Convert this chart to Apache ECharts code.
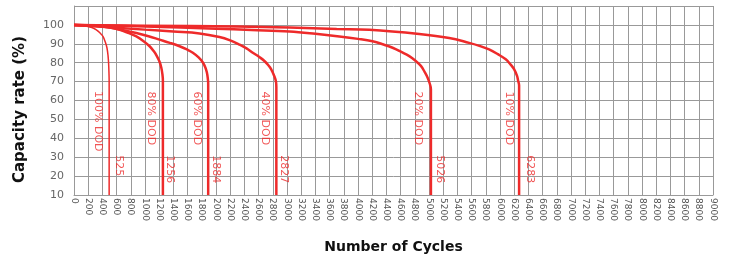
<!DOCTYPE html>
<html>
<head>
<meta charset="utf-8">
<script src="https://cdn.jsdelivr.net/npm/echarts@6/dist/echarts.min.js"></script>
<style>
  html, body { margin: 0; padding: 0; background: #fff; }
  #chart { width: 731px; height: 259px; }
</style>
</head>
<body>
<div id="chart"></div>
<script>
// 循环寿命曲线
const curve100 = [[0, 100], [150, 99.5], [250, 98.6], [315, 97.4], [370, 95.6], [408, 93.9], [440, 91], [464, 87.9], [480, 83.5], [488, 79.2], [493, 74], [495, 70], [495, 10]];
const curve80 = [[0, 100], [300, 99.6], [500, 98.7], [643, 97.4], [760, 95.8], [878, 93.9], [980, 91.4], [1065, 88.7], [1125, 86], [1167, 83.5], [1205, 80.5], [1229, 77.5], [1245, 74], [1252, 70.5], [1252, 10]];
const curve60 = [[0, 100], [400, 99.2], [643, 97.6], [878, 95.7], [1050, 94], [1205, 92.2], [1350, 90.5], [1487, 88.7], [1590, 87], [1674, 85.3], [1755, 82.8], [1815, 80.1], [1850, 77.5], [1871, 74.9], [1885, 71.5], [1890, 69], [1890, 10]];
const curve40 = [[0, 100], [500, 98.8], [1000, 97.5], [1400, 96.5], [1768, 95.5], [2049, 93.6], [2200, 91.8], [2330, 89.6], [2430, 87.6], [2518, 85.3], [2610, 83], [2682, 80.9], [2740, 78.5], [2776, 76.6], [2820, 73], [2845, 70], [2850, 67], [2850, 10]];
const curve20 = [[0, 100], [1000, 99.2], [2000, 98], [2500, 97.3], [3034, 96.5], [3400, 95.3], [3737, 93.9], [4000, 92.6], [4205, 91.3], [4360, 89.6], [4487, 87.9], [4610, 85.7], [4722, 83.5], [4810, 81], [4886, 78.3], [4940, 75], [4979, 72.2], [5010, 69], [5027, 66], [5027, 10]];
const curve10 = [[0, 100], [1000, 99.6], [2300, 99.1], [3034, 98.6], [3700, 97.8], [4159, 97.4], [4862, 95.2], [5284, 93.1], [5565, 90.5], [5720, 88.8], [5846, 87], [5970, 84.5], [6081, 81.8], [6150, 79], [6198, 76.6], [6240, 73], [6255, 70.5], [6269, 68], [6269, 10]];

// 标注文字
const dodNames = ['100% DOD', '80% DOD', '60% DOD', '40% DOD', '20% DOD', '10% DOD'];
const dodLabelX = [335, 1088, 1731, 2692, 4838, 6128];
const dodLabelY = [65, 64.7, 64.7, 64.7, 64.7, 64.7];
const cycleNames = ['525', '1256', '1884', '2827', '5026', '6283'];
const cycleLabelX = [633, 1355, 1993, 2949, 5157, 6419];
const cycleLabelY = [31, 31, 31, 31, 31, 31];

const RED = '#ee2a2a';
const curves = [curve100, curve80, curve60, curve40, curve20, curve10];

const chart = echarts.init(document.getElementById('chart'));

const lineSeries = curves.map((d, i) => ({
  name: dodNames[i],
  type: 'line',
  data: d,
  smooth: 0.4,
  showSymbol: false,
  lineStyle: { color: RED, width: i === 0 ? 1.5 : 2.5 },
  z: 3
}));

const textSeries = (names, xs, ys) => ({
  type: 'scatter',
  symbolSize: 1,
  itemStyle: { color: 'transparent' },
  data: names.map((n, i) => ({ value: [xs[i], ys[i]], name: n })),
  label: {
    show: true,
    position: 'inside',
    formatter: p => p.name,
    rotate: -90,
    align: 'left',
    verticalAlign: 'middle',
    color: RED,
    fontSize: 11,
    fontFamily: 'DejaVu Sans'
  },
  z: 4
});

chart.setOption({
  animation: false,
  grid: { left: 74, right: 18, top: 6, bottom: 62 },
  xAxis: {
    type: 'value',
    min: 0, max: 9000, interval: 200,
    name: 'Number of Cycles',
    nameLocation: 'middle',
    nameGap: 45,
    nameTextStyle: { color: '#111', fontSize: 14, fontWeight: 'bold', fontFamily: 'DejaVu Sans' },
    axisLine: { lineStyle: { color: '#999' } },
    axisTick: { show: false },
    axisLabel: {
      rotate: -90, color: '#555', fontSize: 9, margin: 3, fontFamily: 'DejaVu Sans',
      formatter: v => String(v)
    },
    splitLine: { show: true, lineStyle: { color: '#999', width: 1 } }
  },
  yAxis: {
    type: 'value',
    min: 10, max: 110, interval: 10,
    name: 'Capacity rate (%)',
    nameLocation: 'middle',
    nameGap: 46,
    nameTextStyle: { color: '#111', fontSize: 15, fontWeight: 'bold', fontFamily: 'DejaVu Sans', padding: [0, 18, 0, 0] },
    axisLine: { show: true, lineStyle: { color: '#999' } },
    axisTick: { show: false },
    axisLabel: {
      color: '#666', fontSize: 11, margin: 10, fontFamily: 'DejaVu Sans',
      formatter: v => (v > 100 ? '' : String(v))
    },
    splitLine: { show: true, lineStyle: { color: '#999', width: 1 } }
  },
  series: [
    ...lineSeries,
    textSeries(dodNames, dodLabelX, dodLabelY),
    textSeries(cycleNames, cycleLabelX, cycleLabelY)
  ]
});
</script>
</body>
</html>
